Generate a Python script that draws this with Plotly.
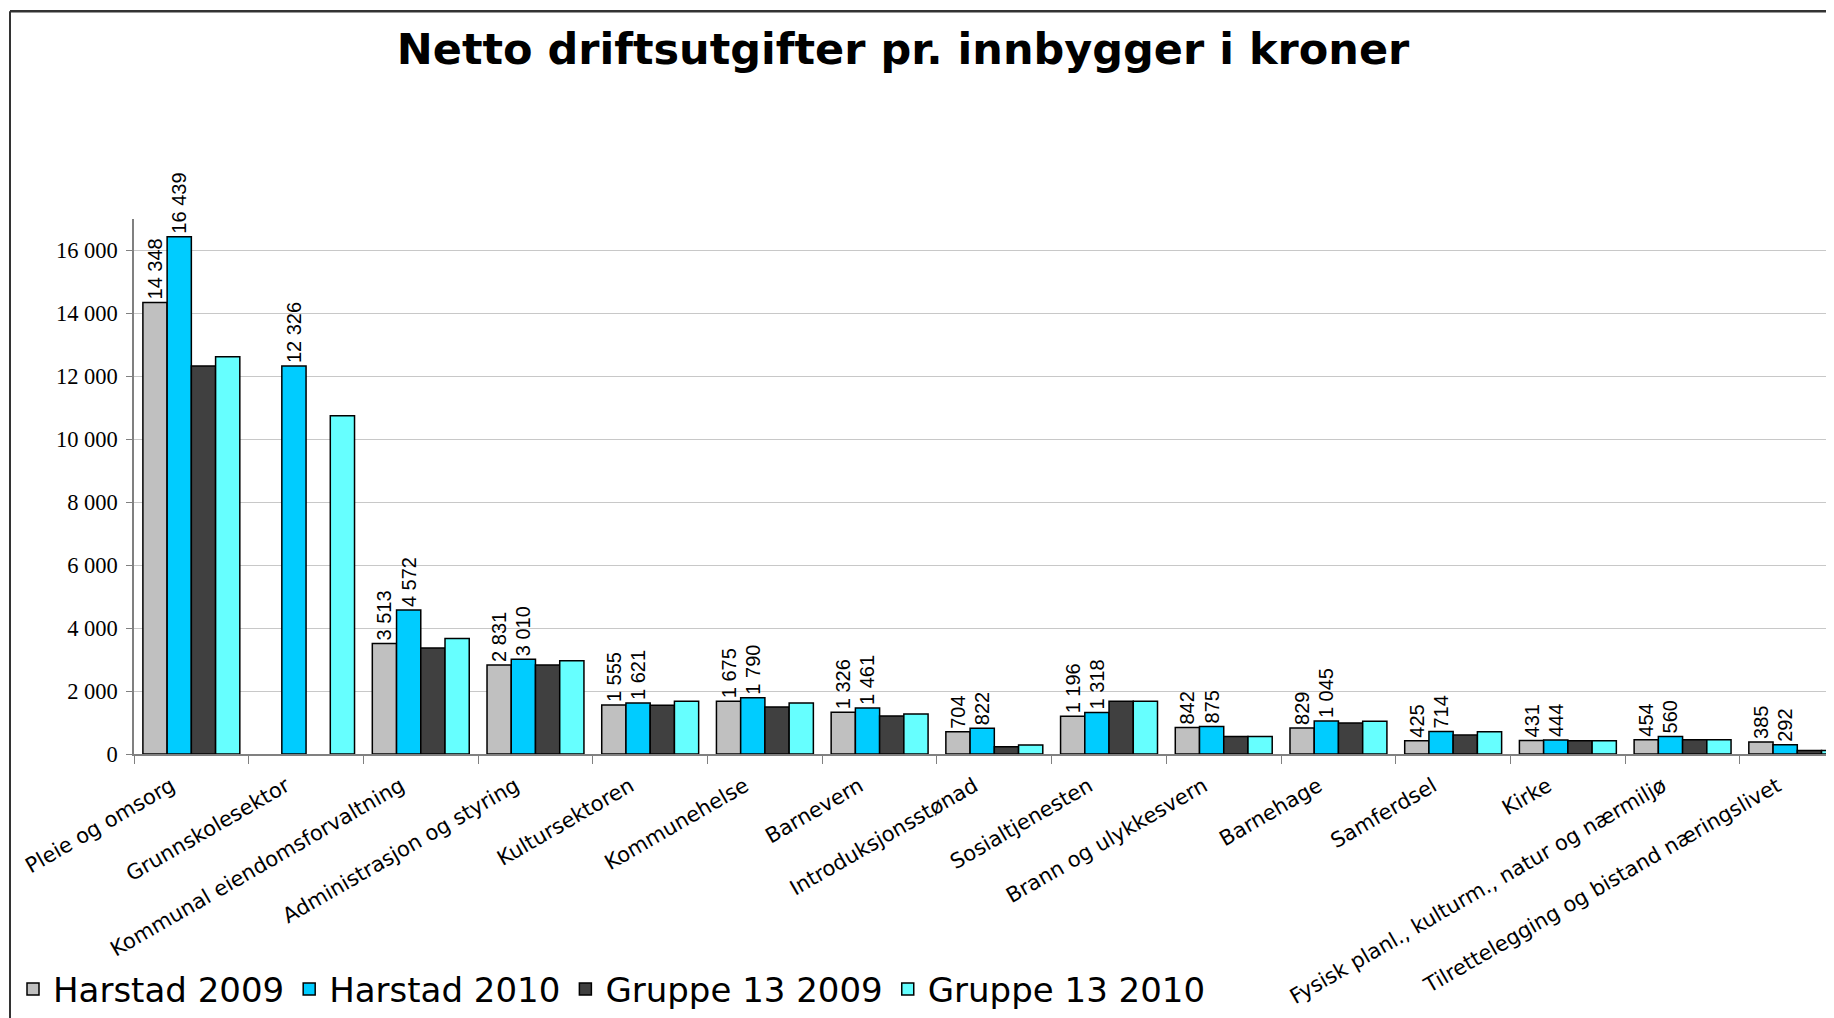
import plotly.graph_objects as go

categories = [
    "Pleie og omsorg", "Grunnskolesektor", "Kommunal eiendomsforvaltning",
    "Administrasjon og styring", "Kultursektoren", "Kommunehelse", "Barnevern",
    "Introduksjonsstønad", "Sosialtjenesten", "Brann og ulykkesvern", "Barnehage",
    "Samferdsel", "Kirke", "Fysisk planl., kulturm., natur og nærmiljø",
    "Tilrettelegging og bistand næringslivet",
]
harstad_2009 = [14348, None, 3513, 2831, 1555, 1675, 1326, 704, 1196, 842, 829, 425, 431, 454, 385]
harstad_2010 = [16439, 12326, 4572, 3010, 1621, 1790, 1461, 822, 1318, 875, 1045, 714, 444, 560, 292]
gruppe13_2009 = [12330, None, 3370, 2830, 1550, 1495, 1205, 230, 1680, 560, 985, 600, 425, 455, 110]
gruppe13_2010 = [12620, 10750, 3670, 2960, 1675, 1620, 1270, 285, 1680, 560, 1040, 710, 420, 455, 110]

series = [
    ("Harstad 2009", harstad_2009, "#C0C0C0", True),
    ("Harstad 2010", harstad_2010, "#00CCFF", True),
    ("Gruppe 13 2009", gruppe13_2009, "#404040", False),
    ("Gruppe 13 2010", gruppe13_2010, "#66FFFF", False),
]

fig = go.Figure()
for name, vals, color, labels in series:
    fig.add_trace(go.Bar(
        name=name, x=categories, y=vals,
        marker=dict(color=color, line=dict(color="black", width=1.5)),
        texttemplate="%{y:,}" if labels else None,
        textposition="outside" if labels else "none",
        textangle=-90,
        textfont=dict(family="Liberation Sans, Arial", size=20, color="black"),
        constraintext="none",
        cliponaxis=False,
    ))

# page has an 8px body margin; figure coordinates = page coordinates - 8
OFF = 8
W, H = 1834 - OFF, 1018 - OFF
L = 134 - OFF
T = 219 - OFF
B = H - (754.5 - OFF)
pw = W - L
ph = H - T - B

def px_x(page_x):
    return (page_x - OFF - L) / pw

def px_y(page_y):
    return (H - B - (page_y - OFF)) / ph

fig.update_layout(
    width=W, height=H,
    margin=dict(l=L, r=0, t=T, b=B, pad=0, autoexpand=False),
    paper_bgcolor="white", plot_bgcolor="white",
    separators=", ",
    barmode="group", bargap=0.155, bargroupgap=0,
    title=dict(
        text="<b>Netto driftsutgifter pr. innbygger i kroner</b>",
        x=(903 - OFF) / W, xanchor="center", y=1 - (49 - OFF) / H, yanchor="middle",
        font=dict(family="DejaVu Sans, Verdana", size=43, color="black"),
    ),
    legend=dict(
        orientation="h", x=px_x(13), xanchor="left", y=px_y(990), yanchor="middle",
        font=dict(family="DejaVu Sans, Verdana", size=34, color="black"),
        bgcolor="rgba(0,0,0,0)", traceorder="normal",
    ),
    xaxis=dict(
        range=[-0.5, 14.32], tickson="boundaries", ticks="outside", ticklen=8,
        tickcolor="#808080", showline=True, linecolor="#808080", linewidth=1.5,
        tickangle=-30, showgrid=False, automargin=False,
        ticklabelshift=-20, ticklabelstandoff=10,
        tickfont=dict(family="DejaVu Sans, Verdana", size=21, color="black"),
    ),
    yaxis=dict(
        range=[0, 17000], dtick=2000, tick0=0, tickformat=",d",
        ticks="outside", ticklen=6, tickcolor="#808080",
        showline=True, linecolor="#808080", linewidth=1.5,
        showgrid=True, gridcolor="#C8C8C8", gridwidth=1, zeroline=False,
        automargin=False, ticklabelstandoff=4,
        tickfont=dict(family="Liberation Serif, Times New Roman", size=22.5, color="black"),
    ),
    shapes=[
        dict(type="line", xref="paper", yref="paper", x0=px_x(10), x1=px_x(1834 + 5),
             y0=px_y(11), y1=px_y(11), line=dict(color="#333333", width=2.5)),
        dict(type="line", xref="paper", yref="paper", x0=px_x(10), x1=px_x(10),
             y0=px_y(11), y1=px_y(1018 + 5), line=dict(color="#333333", width=2)),
    ],
)

fig.write_html("out.html")
